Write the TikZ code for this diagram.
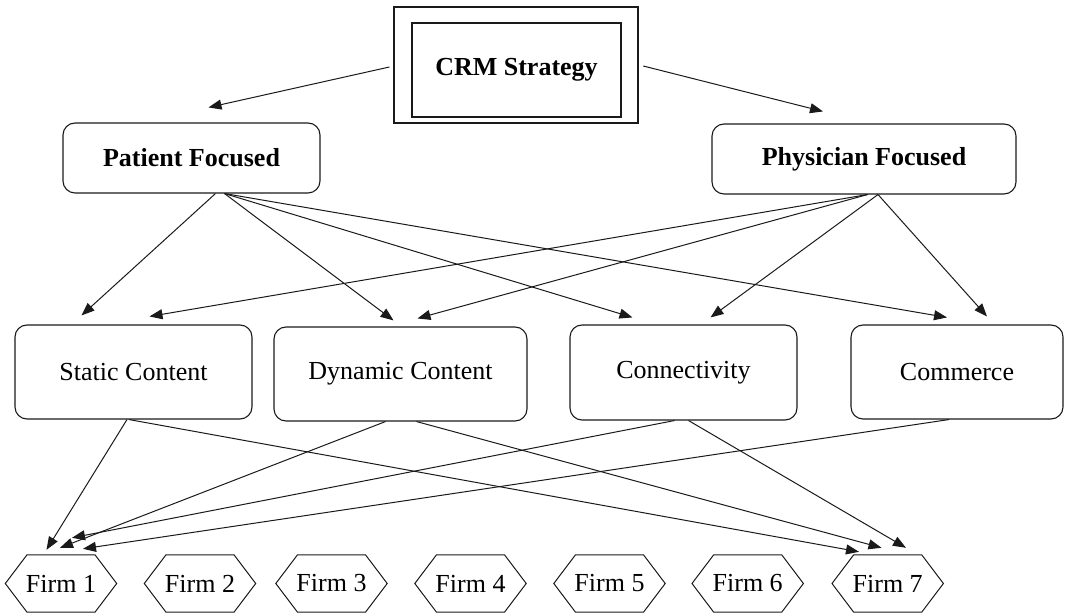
\documentclass[tikz,border=0pt]{standalone}
\usepackage{fontspec}
\setmainfont{Liberation Serif}
\usetikzlibrary{arrows.meta,calc}
\definecolor{ink}{HTML}{1A1A1A}
\begin{document}
\begin{tikzpicture}[x=1pt,y=1pt,
  txt/.style={font=\fontsize{26}{30}\selectfont},
  box/.style={txt, draw=ink, line width=1.1pt, rounded corners=12pt, inner sep=0pt},
  bbox/.style={box, font=\fontsize{26}{30}\selectfont\bfseries},
  sqbox/.style={draw=ink, line width=1.1pt, inner sep=0pt},
  firm/.style={txt, inner sep=0pt, minimum width=111pt, minimum height=57pt},
  hexline/.style={draw=ink, line width=1pt, line join=miter},
  arr/.style={draw=ink, line width=1pt, -{Triangle[length=13pt,width=10pt]}},
]
\useasboundingbox (0,0) rectangle (1065,613);

% top
\node[sqbox, minimum width=244pt, minimum height=116pt] (crm) at (516,548) {};
\node[sqbox, minimum width=209pt, minimum height=94pt, font=\fontsize{26}{30}\selectfont\bfseries] (crmin) at (516.5,543) {CRM Strategy};

% second row
\node[bbox, minimum width=257pt, minimum height=70pt] (pf) at (191.5,455) {Patient Focused};
\node[bbox, minimum width=304pt, minimum height=70pt] (ph) at (864,454) {Physician Focused};

% third row
\node[box, minimum width=237pt, minimum height=94pt] (st) at (133.5,241) {Static Content};
\node[box, minimum width=253pt, minimum height=94pt] (dy) at (400.5,239) {Dynamic Content};
\node[box, minimum width=227pt, minimum height=95pt] (cn) at (683.5,240.5) {Connectivity};
\node[box, minimum width=212pt, minimum height=94pt] (cm) at (957,241) {Commerce};

% firms
\node[firm] (f1) at (61,29.5) {Firm 1};
\node[firm] (f2) at (200,29.5) {Firm 2};
\node[firm] (f3) at (331.5,29.5) {Firm 3};
\node[firm] (f4) at (470.5,29.5) {Firm 4};
\node[firm] (f5) at (609.5,29.5) {Firm 5};
\node[firm] (f6) at (747.7,29.5) {Firm 6};
\node[firm] (f7) at (887.7,29.5) {Firm 7};
\foreach \i in {1,...,7}{
  \draw[hexline] (f\i.west) -- ([xshift=21.7]f\i.north west) -- ([xshift=-21.7]f\i.north east)
    -- (f\i.east) -- ([xshift=-21.7]f\i.south east) -- ([xshift=21.7]f\i.south west) -- cycle;
}

% arrows from CRM
\draw[arr] ([shift={(-4,-2)}]crm.west) -- ([shift={(17,15)}]pf.north);
\draw[arr] ([shift={(4.7,-1)}]crm.east) -- ([shift={(-41,12)}]ph.north);

% patient focused
\draw[arr] ([xshift=24]pf.south) -- ([shift={(-52,9)}]st.north);
\draw[arr] ([xshift=33]pf.south) -- ([shift={(-7,6)}]dy.north);
\draw[arr] ([xshift=33]pf.south) -- ([shift={(-51,7)}]cn.north);
\draw[arr] ([xshift=33]pf.south) -- ([shift={(-10,7)}]cm.north);

% physician focused
\draw[arr] ([xshift=3.6]ph.south) -- ([shift={(16,8)}]st.north);
\draw[arr] ([xshift=3.6]ph.south) -- ([shift={(17,8)}]dy.north);
\draw[arr] ([xshift=14]ph.south) -- ([shift={(27,7)}]cn.north);
\draw[arr] ([xshift=14]ph.south) -- ([shift={(30,8)}]cm.north);

% to firms
\draw[arr] ([xshift=-6.5]st.south) -- ([shift={(-14.5,5)}]f1.north);
\draw[arr] ([xshift=-4.5]st.south) -- ([shift={(-28.7,3)}]f7.north);
\draw[arr] ([xshift=-15]dy.south) -- ([shift={(-1,7)}]f1.north);
\draw[arr] ([xshift=16]dy.south) -- ([shift={(-6.2,7)}]f7.north);
\draw[arr] ([xshift=-9]cn.south) -- ([shift={(11,17)}]f1.north);
\draw[arr] ([xshift=5]cn.south) -- ([shift={(18.3,7)}]f7.north);
\draw[arr] ([xshift=-8]cm.south) -- ([shift={(22,6)}]f1.north);
\end{tikzpicture}
\end{document}
